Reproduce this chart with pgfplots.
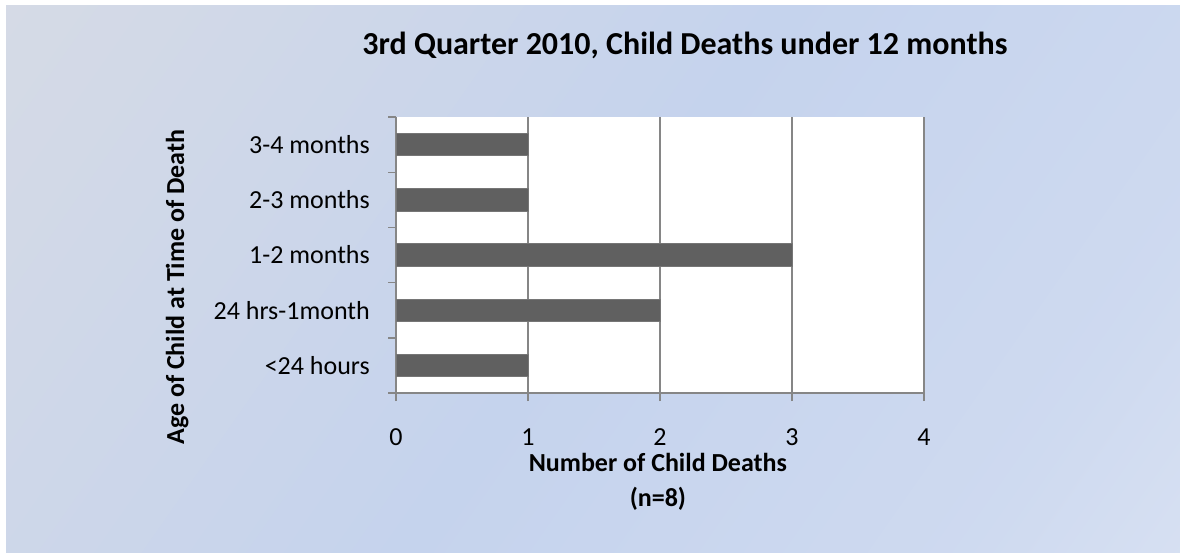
\documentclass[border=0pt]{standalone}
\usepackage{pgfplots}
\pgfplotsset{compat=1.18}
\usepackage{fontspec}
\setmainfont{Carlito}
\definecolor{barfill}{RGB}{96,96,96}
\definecolor{baredge}{RGB}{118,118,118}
\definecolor{gridc}{RGB}{134,134,134}
\definecolor{bgA}{RGB}{219,221,227}
\definecolor{bgB}{RGB}{197,211,237}
\definecolor{bgC}{RGB}{227,233,246}
\pgfdeclarehorizontalshading{bgshade}{100bp}{color(0bp)=(bgA); color(22bp)=(bgA!60!bgB); color(50bp)=(bgB); color(75bp)=(bgB!70!bgC); color(100bp)=(bgC)}
\begin{document}
\begin{tikzpicture}[x=1pt,y=1pt]
\useasboundingbox (0,0) rectangle (1180,552);
\fill[white] (0,0) rectangle (1180,552);
\shade[shading=bgshade, shading angle=-35] (6,0) rectangle (1180,546);
\begin{axis}[
  at={(396pt,159pt)}, anchor=south west,
  scale only axis, width=528pt, height=276pt,
  xbar, bar width=22.4pt,
  xmin=0, xmax=4, ymin=-0.5, ymax=4.5,
  axis x line*=bottom, axis y line*=left,
  axis line style={gridc, line width=1.4pt},
  axis background/.style={fill=white},
  xmajorgrids, grid style={gridc, line width=1.4pt},
  xtick={0,1,2,3,4},
  ytick={-0.5,0.5,1.5,2.5,3.5,4.5},
  yticklabels={},
  extra y ticks={0,1,2,3,4},
  extra y tick labels={{<24 hours},{24 hrs-1month},{1-2 months},{2-3 months},{3-4 months}},
  extra y tick style={major tick length=0pt, yticklabel style={anchor=east, inner sep=0pt, xshift=-26pt}},
  tick align=outside,
  major tick length=8pt,
  tick style={gridc, line width=1.4pt},
  tick label style={font=\fontsize{26}{31}\selectfont},
  /pgf/number format/assume math mode=true,
  xticklabel style={anchor=base, inner sep=0pt, yshift=-44pt},
  title={\bfseries 3rd Quarter 2010, Child Deaths under 12 months},
  title style={at={(axis description cs:0.5473,1.2065)}, anchor=base, inner sep=0pt, font=\fontsize{32}{38}\selectfont},
  xlabel={\bfseries Number of Child Deaths\\\bfseries (n=8)},
  xlabel style={at={(axis description cs:0.496,-0.412)}, anchor=base, inner sep=0pt, align=center, font=\fontsize{26}{35}\selectfont},
  ylabel={\bfseries Age of Child at Time of Death},
  ylabel style={at={(axis description cs:-0.4015,0.384)}, anchor=base, inner sep=0pt, font=\fontsize{26}{31}\selectfont},
]
\addplot[fill=barfill, draw=baredge, line width=0.8pt] coordinates {(1,0) (2,1) (3,2) (1,3) (1,4)};
\end{axis}
\end{tikzpicture}
\end{document}
